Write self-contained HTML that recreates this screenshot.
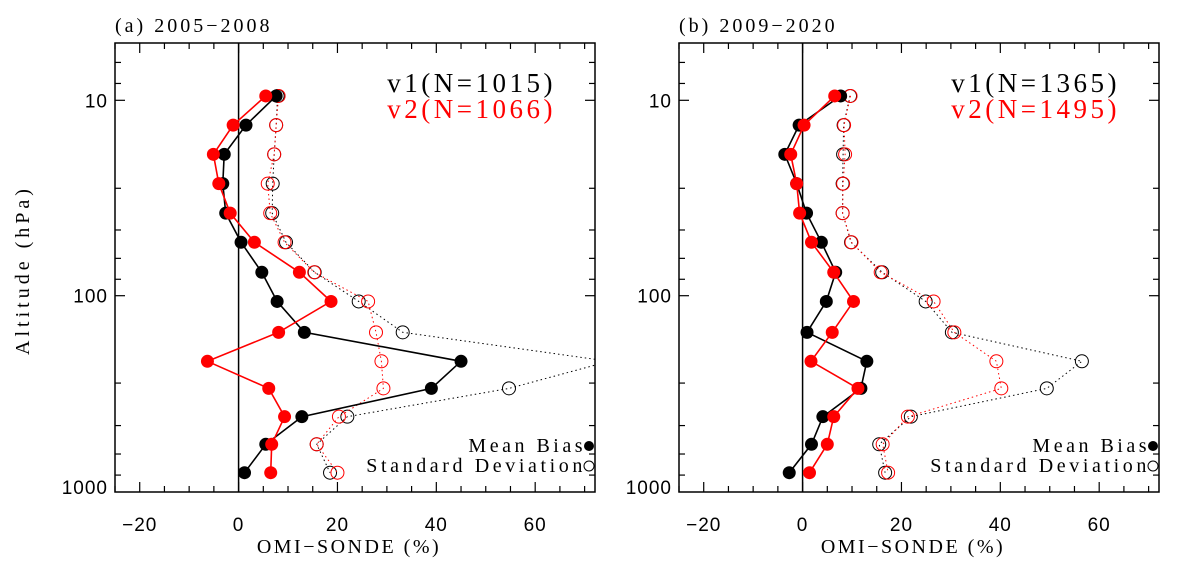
<!DOCTYPE html>
<html><head><meta charset="utf-8"><style>
body{margin:0;background:#fff}
svg text{font-family:"Liberation Sans",sans-serif}
.ser{font-family:"Liberation Serif",serif}
</style></head><body>
<svg id="chart" width="1178" height="572" viewBox="0 0 1178 572" xmlns="http://www.w3.org/2000/svg">
<text x="29" y="270" font-size="20" text-anchor="middle" transform="rotate(-90 29 270)" class="ser" letter-spacing="4">Altitude (hPa)</text>
</svg>
<script>
// layer pressures (hPa)
const layers=[9.5,13.4,18.9,26.7,37.8,53.3,75.9,107,154,216.6,298,416,576,805];
// Panel a 2005-2008
const aV1Mean=[7.6,1.5,-2.9,-3.2,-2.6,0.5,4.7,7.8,13.3,45.0,39.0,12.8,5.5,1.2];
const aV2Mean=[5.5,-1.1,-5.1,-4.0,-1.7,3.2,12.3,18.7,8.1,-6.3,6.1,9.3,6.7,6.5];
const aV1Sd=[7.9,7.6,7.2,6.9,6.8,9.6,15.4,24.3,33.2,75,54.7,22.0,15.8,18.5];
const aV2Sd=[8.1,7.6,7.2,5.9,6.4,9.3,15.3,26.2,27.8,28.9,29.3,20.3,15.8,20.0];
// Panel b 2009-2020
const bV1Mean=[7.7,-0.7,-3.6,-1.2,0.8,3.8,6.7,4.8,0.9,13.0,11.8,4.1,1.8,-2.7];
const bV2Mean=[6.5,0.3,-2.4,-1.2,-0.6,1.8,6.3,10.3,6.0,1.7,11.2,6.3,5.0,1.4];
const bV1Sd=[9.6,8.3,8.2,8.1,8.1,9.8,16.1,24.9,30.2,56.5,49.4,21.9,15.5,16.7];
const bV2Sd=[9.7,8.4,8.6,8.2,8.1,9.9,15.8,26.5,30.7,39.2,40.2,21.3,16.2,17.3];
const xTicks=[-20,0,20,40,60];
const yMajor=[10,100,1000];
const yMinor=[6.4,8.2,28.2,46.1,64.4,82.4,280,462,646,828];
const panelTitles=["(a) 2005-2008","(b) 2009-2020"];
const v1Labels=["v1(N=1015)","v1(N=1365)"];
const v2Labels=["v2(N=1066)","v2(N=1495)"];

const NS="http://www.w3.org/2000/svg";
const svg=document.getElementById('chart');
function mk(tag,attrs,parent){const e=document.createElementNS(NS,tag);for(const k in attrs)e.setAttribute(k,attrs[k]);(parent||svg).appendChild(e);return e;}

function panel(idx,L,R,v1m,v2m,v1s,v2s){
  const T=43,B=492,xmin=-25,xmax=72.1;
  const g=mk('g',{});
  
  
  const clipId='clip'+idx;
  const cp=mk('clipPath',{id:clipId},g);
  mk('rect',{x:L,y:T,width:R-L,height:B-T},cp);
  const xs=v=>L+(v-xmin)/(xmax-xmin)*(R-L);
  const ys=p=>100.3+(Math.log10(p)-1)*195.4;
  const fr=mk('rect',{x:L,y:T,width:R-L,height:B-T,fill:'none',stroke:'#000','stroke-width':1.5},g);
  
  
  for(let v=-25;v<=70;v+=5){
    const maj=xTicks.includes(v);const len=maj?10:6;const x=xs(v);
    mk('line',{x1:x,x2:x,y1:B,y2:B-len,stroke:'#000','stroke-width':1.2},g);
    mk('line',{x1:x,x2:x,y1:T,y2:T+len,stroke:'#000','stroke-width':1.2},g);
  }
  xTicks.forEach(v=>{
    const t=mk('text',{x:xs(v),y:531,'font-size':19,'text-anchor':'middle','letter-spacing':1},g);
    t.textContent=v<0?'\u2212'+(-v):String(v);
    
    
  });
  const xt=mk('text',{x:(L+R)/2-6,y:553,'font-size':20,'text-anchor':'middle','class':'ser','letter-spacing':2.5},g);
  xt.textContent='OMI\u2212SONDE (%)';
  
  
  yMajor.forEach(p=>{const y=Math.min(ys(p),487);
    if(p<1000){mk('line',{x1:L,x2:L+10,y1:y,y2:y,stroke:'#000','stroke-width':1.2},g);
    mk('line',{x1:R,x2:R-10,y1:y,y2:y,stroke:'#000','stroke-width':1.2},g);}
    const t=mk('text',{x:L-7,y:y+7,'font-size':19,'text-anchor':'end','letter-spacing':1},g);
    t.textContent=String(p);
    
    
  });
  yMinor.forEach(p=>{const y=ys(p);
    mk('line',{x1:L,x2:L+6,y1:y,y2:y,stroke:'#000','stroke-width':1.2},g);
    mk('line',{x1:R,x2:R-6,y1:y,y2:y,stroke:'#000','stroke-width':1.2},g);
  });
  const zl=mk('line',{x1:xs(0),x2:xs(0),y1:T,y2:B,stroke:'#000','stroke-width':1.5},g);
  
  
  const cg=mk('g',{'clip-path':'url(#'+clipId+')'},g);
  function series(vals,color,filled,name){
    const sg=mk('g',{},cg);
    
    
    const pts=vals.map((v,i)=>xs(v).toFixed(1)+','+ys(layers[i]).toFixed(1)).join(' ');
    mk('polyline',{points:pts,fill:'none',stroke:color,'stroke-width':filled?1.6:1,'stroke-dasharray':filled?'':'1.5,3'},sg);
    vals.forEach((v,i)=>{
      const c=mk('circle',{cx:xs(v),cy:ys(layers[i]),r:6.5,fill:filled?color:'none',stroke:color,'stroke-width':filled?0:1},sg);
      
      
    });
  }
  series(v1s,'#000',false,'v1-std-dev');
  series(v2s,'#f00',false,'v2-std-dev');
  series(v1m,'#000',true,'v1-mean-bias');
  series(v2m,'#f00',true,'v2-mean-bias');
  const pt=mk('text',{x:L,y:32,'font-size':20,'class':'ser','letter-spacing':3},g);
  pt.textContent=panelTitles[idx].replace('-','\u2212');
  
  
  const l1=mk('text',{x:L+441,y:92,'font-size':27,'text-anchor':'end','class':'ser','letter-spacing':3.5},g);
  l1.textContent=v1Labels[idx];
  
  
  const l2=mk('text',{x:L+441,y:118,'font-size':27,'text-anchor':'end','class':'ser',fill:'#f00','letter-spacing':3.5},g);
  l2.textContent=v2Labels[idx];
  
  
  const m1=mk('text',{x:R-9,y:452,'font-size':20,'text-anchor':'end','class':'ser','letter-spacing':3.5},g);
  m1.textContent='Mean Bias';
  
  
  mk('circle',{cx:R-6,cy:446,r:5,fill:'#000'},g);
  const m2=mk('text',{x:R-9,y:472,'font-size':20,'text-anchor':'end','class':'ser','letter-spacing':3.6},g);
  m2.textContent='Standard Deviation';
  
  
  mk('circle',{cx:R-6,cy:466,r:5,fill:'none',stroke:'#000','stroke-width':1},g);
}
panel(0,115,595,aV1Mean,aV2Mean,aV1Sd,aV2Sd);
panel(1,679,1159,bV1Mean,bV2Mean,bV1Sd,bV2Sd);
</script>
</body></html>
